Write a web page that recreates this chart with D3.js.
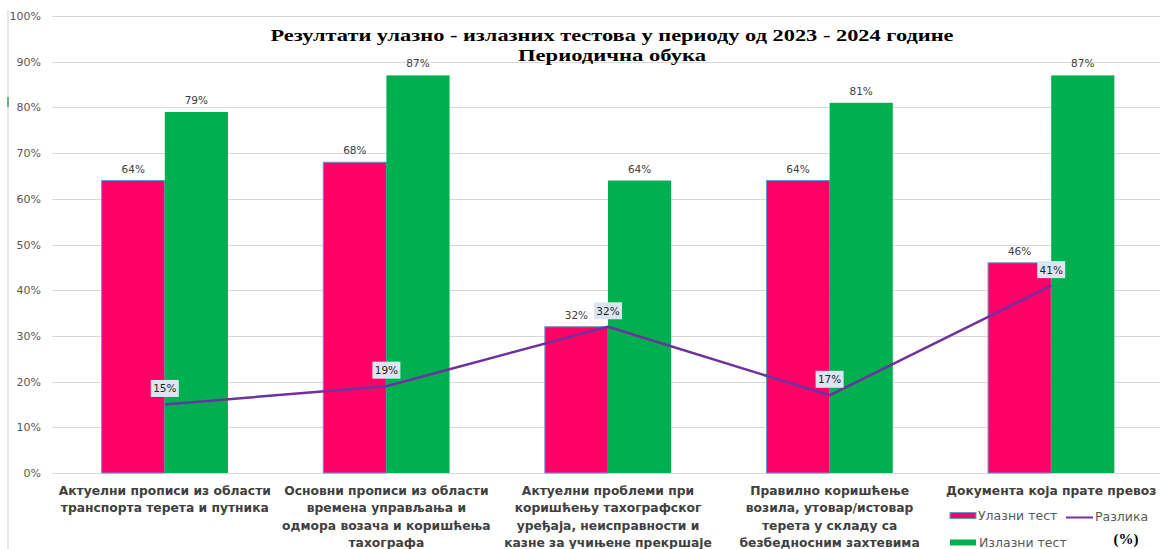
<!DOCTYPE html>
<html>
<head>
<meta charset="utf-8">
<script src="https://cdn.jsdelivr.net/npm/d3@7"></script>
<style>
  html, body { margin: 0; padding: 0; background: #fff; }
  svg { display: block; }
</style>
</head>
<body>
<svg id="chart" width="1164" height="549"></svg>
<script>
// Categories (training topics), each split into label lines
const categories = [
  "Актуелни прописи из области транспорта терета и путника",
  "Основни прописи из области времена управљања и одмора возача и коришћења тахографа",
  "Актуелни проблеми при коришћењу тахографског уређаја, неисправности и казне за учињене прекршаје",
  "Правилно коришћење возила, утовар/истовар терета у складу са безбедносним захтевима",
  "Документа која прате превоз"
];
const categoryLines = [
  ["Актуелни прописи из области", "транспорта терета и путника"],
  ["Основни прописи из области", "времена управљања и", "одмора возача и коришћења", "тахографа"],
  ["Актуелни проблеми при", "коришћењу тахографског", "уређаја, неисправности и", "казне за учињене прекршаје"],
  ["Правилно коришћење", "возила, утовар/истовар", "терета у складу са", "безбедносним захтевима"],
  ["Документа која прате превоз"]
];
// Series values (share of correct answers)
const entryTest = [0.64, 0.68, 0.32, 0.64, 0.46];
const exitTest  = [0.79, 0.87, 0.64, 0.81, 0.87];
const difference = [0.15, 0.19, 0.32, 0.17, 0.41];
// Axis ticks
const yTicks = [0, 0.1, 0.2, 0.3, 0.4, 0.5, 0.6, 0.7, 0.8, 0.9, 1.0];
const titleLines = ["Резултати улазно - излазних тестова у периоду од 2023 - 2024 године", "Периодична обука"];
const seriesNames = ["Улазни тест", "Излазни тест", "Разлика"];

const COLORS = { entry: "#ff0066", exit: "#00b050", diff: "#7030a0" };
const svg = d3.select("#chart");

const x = d3.scaleBand().domain(categories).range([54, 1162]).paddingInner(0.43).paddingOuter(0.215);
const sub = d3.scaleBand().domain(["entry", "exit"]).range([0, x.bandwidth()]);
const y = d3.scaleLinear().domain([0, 1]).range([473, 16]);
const pct = d3.format(".0%");

// frame line on the left
svg.append("line").attr("x1", 8).attr("x2", 8).attr("y1", 10).attr("y2", 549)
  .attr("stroke", "#d0d0d0").attr("stroke-width", 1);
svg.append("line").attr("x1", 8).attr("x2", 8).attr("y1", 97).attr("y2", 107)
  .attr("stroke", "#3aa56a").attr("stroke-width", 1.5);

// gridlines
svg.append("g").selectAll("line").data(yTicks).join("line")
  .attr("x1", 52).attr("x2", 1160)
  .attr("y1", d => Math.round(y(d)) + 0.5).attr("y2", d => Math.round(y(d)) + 0.5)
  .attr("stroke", "#d9d9d9").attr("stroke-width", 1);

// y axis labels
const yAxis = d3.axisLeft(y).tickValues(yTicks).tickFormat(pct).tickSize(0).tickPadding(0);
const gy = svg.append("g").attr("transform", "translate(41,0)").call(yAxis);
gy.select(".domain").remove();
gy.selectAll("text").attr("font-family", "DejaVu Sans, sans-serif").attr("font-size", 11)
  .attr("fill", "#595959");

// bars
const groups = svg.append("g").selectAll("g").data(categories).join("g")
  .attr("transform", d => `translate(${x(d)},0)`);
groups.append("rect")
  .attr("x", 0).attr("width", sub.bandwidth())
  .attr("y", (d, i) => y(entryTest[i])).attr("height", (d, i) => y(0) - y(entryTest[i]))
  .attr("fill", COLORS.entry).attr("stroke", "#5b9bd5").attr("stroke-width", 1);
groups.append("rect")
  .attr("x", sub("exit")).attr("width", sub.bandwidth())
  .attr("y", (d, i) => y(exitTest[i])).attr("height", (d, i) => y(0) - y(exitTest[i]))
  .attr("fill", COLORS.exit);

// bar value labels
const valFont = "DejaVu Sans, sans-serif";
groups.append("text")
  .attr("x", sub.bandwidth() / 2).attr("y", (d, i) => y(entryTest[i]) - 8)
  .attr("text-anchor", "middle").attr("font-family", valFont).attr("font-size", 10.5)
  .attr("fill", "#404040").text((d, i) => pct(entryTest[i]));
groups.append("text")
  .attr("x", sub("exit") + sub.bandwidth() / 2).attr("y", (d, i) => y(exitTest[i]) - 8)
  .attr("text-anchor", "middle").attr("font-family", valFont).attr("font-size", 10.5)
  .attr("fill", "#404040").text((d, i) => pct(exitTest[i]));

// difference line
const cx = d => x(d) + x.bandwidth() / 2;
const line = d3.line().x((d, i) => cx(categories[i])).y(d => y(d));
svg.append("path").datum(difference).attr("d", line)
  .attr("fill", "none").attr("stroke", COLORS.diff).attr("stroke-width", 2.5)
  .attr("stroke-linejoin", "round");

// difference labels in boxes
const dl = svg.append("g").selectAll("g").data(difference).join("g")
  .attr("transform", (d, i) => `translate(${cx(categories[i])},${y(d) - 16})`);
dl.append("rect").attr("x", -14).attr("y", -8.5).attr("width", 28).attr("height", 17)
  .attr("fill", "#dce6f2");
dl.append("text").attr("y", 4).attr("text-anchor", "middle")
  .attr("font-family", valFont).attr("font-size", 10.5).attr("fill", "#262626")
  .text(d => pct(d));

// category labels
const lab = svg.append("g").selectAll("text").data(categories).join("text")
  .attr("text-anchor", "middle").attr("font-family", "DejaVu Sans, sans-serif")
  .attr("font-weight", "bold").attr("font-size", 12.3).attr("fill", "#404040")
  .attr("transform", d => `translate(${cx(d)},0)`);
lab.selectAll("tspan").data((d, i) => categoryLines[i]).join("tspan")
  .attr("x", 0).attr("y", (t, j) => 495 + j * 17.3).text(t => t);

// title (wide bold serif)
const titleWidths = [683, 188];
svg.append("g").selectAll("text").data(titleLines).join("text")
  .attr("x", 612).attr("y", (d, i) => 41 + i * 20)
  .attr("text-anchor", "middle").attr("font-family", "Liberation Serif, serif")
  .attr("font-weight", "bold").attr("font-size", 17.5).attr("fill", "#000")
  .attr("textLength", (d, i) => titleWidths[i]).attr("lengthAdjust", "spacingAndGlyphs")
  .text(d => d);

// legend
const lg = svg.append("g").attr("font-family", "DejaVu Sans, sans-serif").attr("font-size", 12.5)
  .attr("fill", "#595959");
lg.append("rect").attr("x", 950).attr("y", 512.5).attr("width", 26).attr("height", 6)
  .attr("fill", COLORS.entry).attr("stroke", "#5b9bd5").attr("stroke-width", 1);
lg.append("text").attr("x", 978).attr("y", 520).text(seriesNames[0]);
lg.append("rect").attr("x", 950).attr("y", 539.5).attr("width", 26).attr("height", 6)
  .attr("fill", COLORS.exit);
lg.append("text").attr("x", 979).attr("y", 547).text(seriesNames[1]);
lg.append("line").attr("x1", 1066).attr("x2", 1093).attr("y1", 517.5).attr("y2", 517.5)
  .attr("stroke", COLORS.diff).attr("stroke-width", 2);
lg.append("text").attr("x", 1095).attr("y", 521).text(seriesNames[2]);
svg.append("text").attr("x", 1126).attr("y", 544).attr("text-anchor", "middle")
  .attr("font-family", "Liberation Serif, serif").attr("font-weight", "bold")
  .attr("font-size", 15).attr("fill", "#000").text("(%)");
</script>
</body>
</html>
